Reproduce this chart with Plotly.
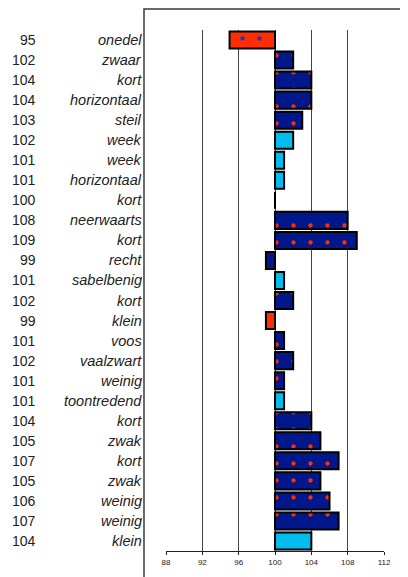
import plotly.graph_objects as go

# rows from top to bottom
waarden = [95, 102, 104, 104, 103, 102, 101, 101, 100, 108, 109, 99, 101,
           102, 99, 101, 102, 101, 101, 104, 105, 107, 105, 106, 107, 104]
woorden = ["onedel", "zwaar", "kort", "horizontaal", "steil", "week", "week",
           "horizontaal", "kort", "neerwaarts", "kort", "recht", "sabelbenig",
           "kort", "klein", "voos", "vaalzwart", "weinig", "toontredend",
           "kort", "zwak", "kort", "zwak", "weinig", "weinig", "klein"]
groep = ["rood", "blauw", "blauw", "blauw", "blauw", "licht", "licht", "licht",
         "licht", "blauw", "blauw", "blauw", "licht", "blauw", "rood", "blauw",
         "blauw", "blauw", "licht", "blauw", "blauw", "blauw", "blauw", "blauw",
         "blauw", "licht"]
BASIS = 100
x_ticks = [88, 92, 96, 100, 104, 108, 112]

STIJL = {
    "rood": dict(kleur="#FF2E00", stip="#2233C0", vorm="."),
    "blauw": dict(kleur="#00188C", stip="#FF2E00", vorm="."),
    "licht": dict(kleur="#00BDEE", stip="#00BDEE", vorm=""),
}

# the page body adds an 8px offset, so everything is placed 8px up/left
OFF = 8
W, H = 408, 577
L, T = 166 - OFF, 30 - OFF
R = W - (384 - OFF)
B = H - (551 - OFF)
pw, ph = W - L - R, H - T - B

rij = list(range(len(waarden)))
FONT = "Liberation Sans, Arial"

fig = go.Figure()
for naam, stijl in STIJL.items():
    sel = [i for i in rij if groep[i] == naam]
    fig.add_trace(
        go.Bar(
            y=sel,
            x=[waarden[i] - BASIS for i in sel],
            base=BASIS,
            orientation="h",
            width=0.85,
            marker=dict(
                color=stijl["kleur"],
                line=dict(color="#000000", width=2),
                pattern=dict(
                    shape=stijl["vorm"],
                    fgcolor=stijl["stip"],
                    bgcolor=stijl["kleur"],
                    size=17,
                    solidity=0.05,
                    fillmode="replace",
                ),
            ),
            showlegend=False,
            hoverinfo="skip",
        )
    )

for i, (v, w) in enumerate(zip(waarden, woorden)):
    fig.add_annotation(
        x=(38 - OFF - L) / pw, xref="paper", y=i, yref="y",
        text=str(v), showarrow=False, xanchor="right",
        font=dict(family=FONT, size=14, color="#222"),
    )
    fig.add_annotation(
        x=(144 - OFF - L) / pw, xref="paper", y=i, yref="y",
        text=f"<i>{w}</i>", showarrow=False, xanchor="right",
        font=dict(family=FONT, size=14.5, color="#222"),
    )

# border box around the plot (top edge sits at the top of the figure)
fig.add_shape(
    type="rect", xref="paper", yref="paper",
    x0=(144 - OFF - L) / pw, x1=(407 - OFF - L) / pw,
    y0=-0.2, y1=1 + (T - 1) / ph,
    line=dict(color="#3a3a3a", width=1.5), layer="below",
)

fig.update_layout(
    width=W, height=H,
    margin=dict(l=L, r=R, t=T, b=B),
    plot_bgcolor="white", paper_bgcolor="white",
    barmode="overlay",
    xaxis=dict(
        range=[88, 112], tickvals=x_ticks, ticks="outside", ticklen=3,
        tickcolor="#222", showline=True, linecolor="#222", linewidth=1,
        showgrid=True, gridcolor="#444", gridwidth=1, zeroline=False,
        tickfont=dict(family=FONT, size=8, color="#222"),
    ),
    yaxis=dict(
        range=[len(waarden) - 0.5, -0.5], showticklabels=False,
        showgrid=False, zeroline=False, showline=False,
    ),
)

fig.write_html("out.html")
